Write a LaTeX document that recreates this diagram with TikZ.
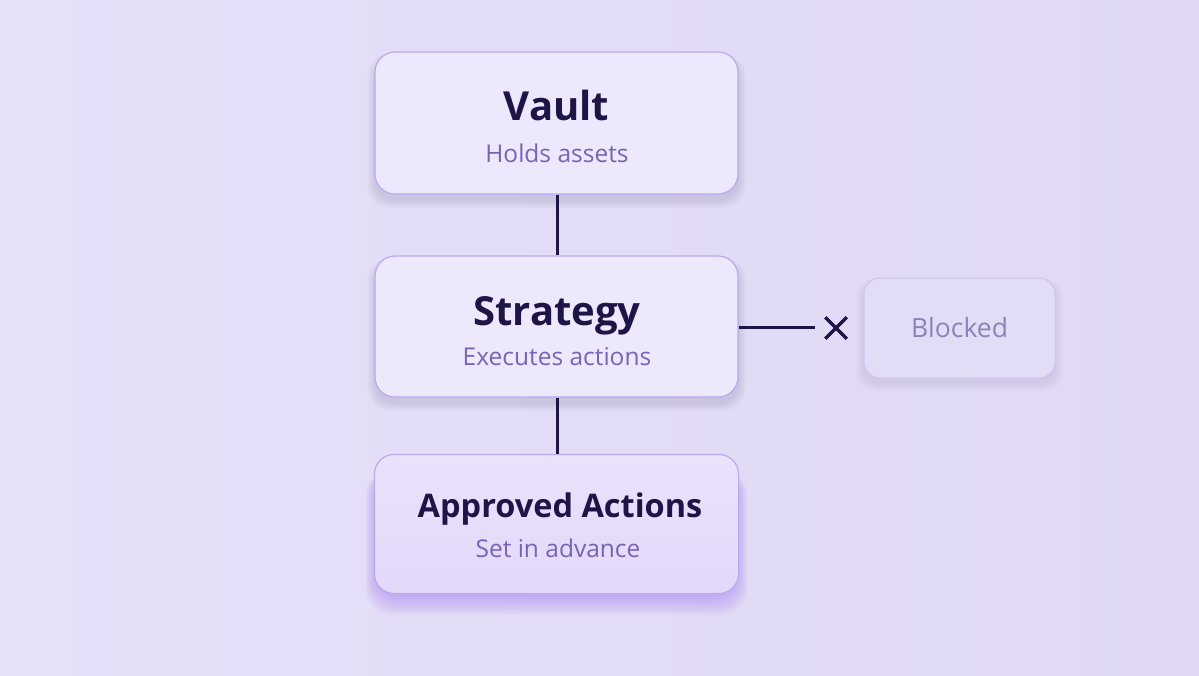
\documentclass[tikz,border=0pt]{standalone}
\usepackage{fontspec}
\setmainfont{Open Sans}
\newfontfamily\titlef{Open Sans}[UprightFont=* Bold]
\usetikzlibrary{shapes.misc,positioning}
\definecolor{bgA}{HTML}{E6E0F9}
\definecolor{bgB}{HTML}{E0D8F4}
\definecolor{boxfill}{HTML}{EDE8FB}
\definecolor{boxedge}{HTML}{BBA9EE}
\definecolor{apfill}{HTML}{EAE2FB}
\definecolor{apfillB}{HTML}{E4D8FA}
\definecolor{glow}{HTML}{B08CF2}
\definecolor{navy}{HTML}{1E1445}
\definecolor{subc}{HTML}{7466B4}
\definecolor{blkc}{HTML}{8C82B8}
\definecolor{blkfill}{HTML}{E3DCF6}
\definecolor{blkedge}{HTML}{CFC3F0}
\tikzset{
  cardbox/.style={rounded corners=20pt, fill=boxfill, draw=boxedge, line width=1.2pt,
    minimum width=363pt, minimum height=142pt, inner sep=0pt},
  blkbox/.style={rounded corners=16pt, fill=blkfill, draw=blkedge, line width=1pt,
    minimum width=191pt, minimum height=100pt, inner sep=0pt,
    font=\fontsize{26.5}{30}\selectfont, text=blkc},
  ttl/.style={font=\titlef\fontsize{40}{46}\selectfont, text=navy, inner sep=0pt},
  ttlsmall/.style={font=\titlef\fontsize{32.5}{36}\selectfont, text=navy, inner sep=0pt},
  sub/.style={font=\fontsize{24.5}{28}\selectfont, text=subc, inner sep=0pt},
  link/.style={draw=navy, line width=3pt},
}
\begin{document}
\begin{tikzpicture}[x=1pt,y=-1pt]
\useasboundingbox (0,0) rectangle (1199,675);
\shade[left color=bgA, right color=bgB] (0,0) rectangle (1199,675);
% soft shadows
\foreach \i in {1,...,8}{
  \fill[black!40!boxedge, opacity=0.025, rounded corners=22pt]
    (375-\i,52+6-\i*0.5) rectangle (738+\i,194+6+\i);
  \fill[black!40!boxedge, opacity=0.025, rounded corners=22pt]
    (375-\i,256+6-\i*0.5) rectangle (738+\i,397+6+\i);
  \fill[black!30!blkedge, opacity=0.02, rounded corners=18pt]
    (864-\i,278+5-\i*0.5) rectangle (1055+\i,378+5+\i);
}
\foreach \i in {1,...,18}{
  \fill[glow, opacity=0.05, rounded corners=26pt]
    (380-\i*0.8,470) rectangle (733+\i*0.8,590+\i*1.4);
}
% boxes
\node[cardbox] (vault) at (556.5,123) {};
\node[cardbox, minimum height=141pt] (strategy) at (556.5,326.5) {};
\node[cardbox, draw=none, fill=none, minimum height=138pt] (approved) at (556.5,524) {};
\shade[rounded corners=20pt, top color=apfill, bottom color=apfillB]
  (approved.south west) rectangle (approved.north east);
\draw[rounded corners=20pt, draw=boxedge, line width=1.2pt]
  (approved.south west) rectangle (approved.north east);
\node[blkbox] (blocked) at (959.5,328) {Blocked};
% texts
\node[ttl, anchor=base] (vaultT) at (556.5,120) {Vault};
\node[sub, anchor=base] (vaultS) at (557,162) {Holds assets};
\node[ttl, anchor=base] (stratT) at (557,325) {Strategy};
\node[sub, anchor=base] (stratS) at (557,365) {Executes actions};
\node[ttlsmall, anchor=base] (apprT) at (560,517) {Approved Actions};
\node[sub, anchor=base] (apprS) at (558,557) {Set in advance};
% connectors
\draw[link] (vault.south -| 557,0) -- (strategy.north -| 557,0);
\draw[link] (strategy.south -| 557,0) -- (approved.north -| 557,0);
\node[cross out, draw=navy, line width=3.5pt, minimum width=18pt, minimum height=18pt, inner sep=0pt] (xmark) at (836,328) {};
\coordinate (hend) at (815,327);
\draw[link] (strategy.east |- hend) -- (hend);
\end{tikzpicture}
\end{document}
